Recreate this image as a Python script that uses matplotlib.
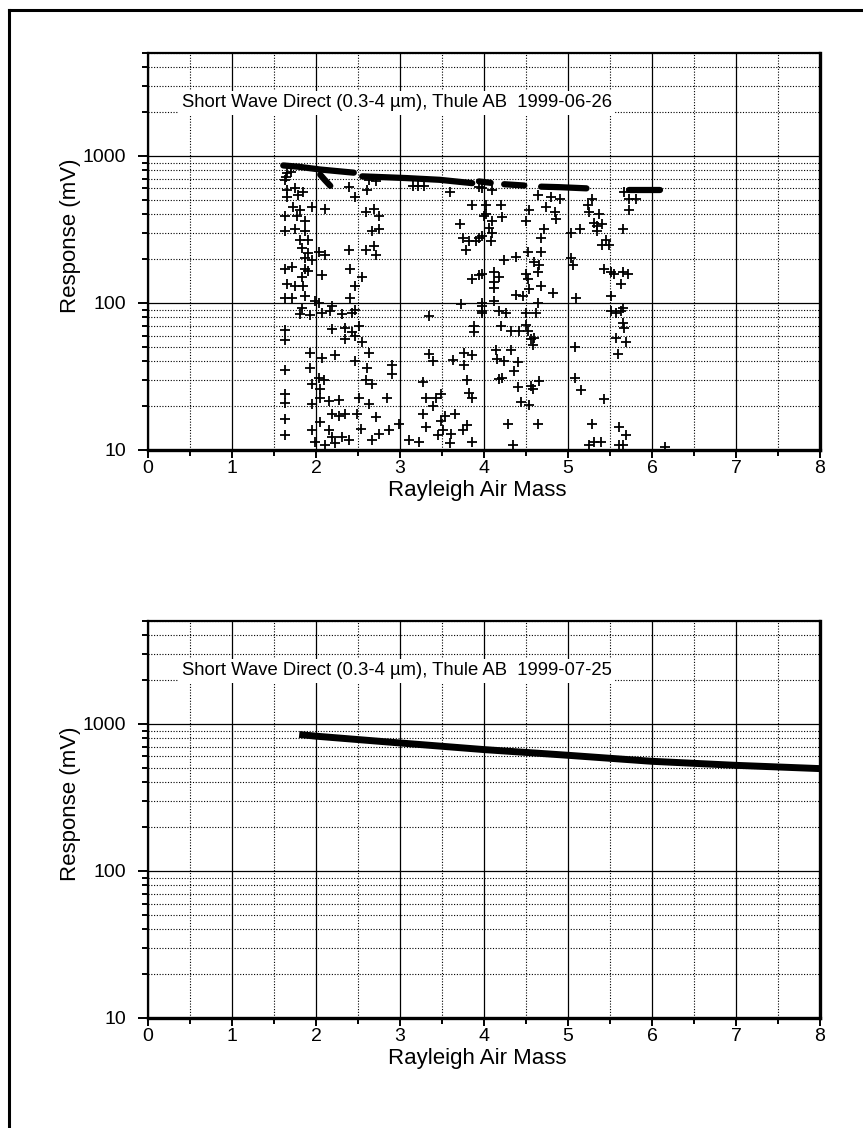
"""Two log-scale response vs. Rayleigh air mass panels (Thule AB, SW direct)."""

import matplotlib
matplotlib.use("Agg")
import matplotlib.pyplot as plt
from matplotlib.lines import Line2D
from matplotlib.ticker import FixedLocator, NullFormatter, LogLocator
import numpy as np

plt.rcParams["font.family"] = ["Liberation Sans", "DejaVu Sans"]

# ---------------- data: 1999-06-26 ----------------
# dense "clear" band, drawn as thick strokes through read points
band_segments = [
    ([1.61, 1.79, 2.05, 2.45], [860, 843, 807, 768]),
    ([2.05, 2.10, 2.17], [745, 690, 625]),
    ([2.55, 3.07, 3.47, 3.86], [725, 706, 687, 652]),
    ([3.94, 4.08], [670, 655]),
    ([4.24, 4.48], [641, 628]),
    ([4.68, 4.90, 5.22], [617, 612, 601]),
    ([5.73, 6.09], [585, 585]),
]

scatter_x = [
    1.63, 1.65, 1.75, 1.65, 1.79, 1.85, 1.73, 1.81, 1.63, 1.77, 1.87, 1.63, 1.75, 1.87,
    1.81, 1.91, 1.83, 1.91, 1.87, 1.95, 2.03, 2.11, 1.63, 1.71, 1.87, 1.91, 1.83, 2.07,
    1.65, 1.75, 1.85, 1.63, 1.71, 1.87, 1.99, 2.03, 1.83, 1.81, 1.93, 2.07, 2.19, 1.63,
    1.63, 1.93, 2.07, 2.23, 1.63, 1.93, 2.03, 2.09, 1.95, 2.05, 1.63, 1.63, 1.95, 2.05,
    2.15, 2.27, 1.63, 1.63, 1.95, 1.99, 2.05, 2.15, 2.19, 2.11, 2.23, 2.31, 2.39, 2.27,
    2.35, 2.19,
    2.17, 2.31, 2.43, 2.47, 2.19, 2.35, 2.43, 2.51, 2.35, 2.47, 2.55, 2.63, 2.47, 2.61,
    2.59, 2.67, 2.51, 2.63, 2.71, 2.49, 2.53, 2.67, 2.75, 2.87, 2.85, 2.99, 2.91, 2.91,
    2.41, 2.55, 2.47, 2.41, 2.39, 2.59, 2.69, 2.71, 2.67, 2.75, 2.59, 2.69, 2.75, 2.47,
    2.61, 2.71, 2.39, 2.11, 1.95, 3.15, 3.22, 3.28, 2.63, 1.66, 1.70, 1.64,
    3.11, 3.23, 3.35, 3.35, 3.39, 3.63, 3.27, 3.31, 3.43, 3.39, 3.49, 3.27, 3.31, 3.49,
    3.53, 3.65, 3.51, 3.61, 3.45, 3.59, 3.75, 3.80, 3.86, 3.76, 3.86, 3.76, 3.80, 3.82,
    3.86, 3.88, 3.88, 3.98, 3.98, 3.73, 3.71, 3.75, 3.82, 3.78, 3.90, 3.94, 3.86, 3.94,
    3.59, 3.86, 3.94, 4.00,
    3.98, 4.10, 4.02, 4.02, 4.10, 4.06, 4.10, 3.98, 4.08, 4.20, 4.22, 4.54, 4.50, 4.64,
    4.80, 4.90, 4.74, 4.84, 4.86, 4.72, 4.68, 5.04, 5.14, 4.38, 4.24, 4.52, 4.68, 4.60,
    4.66, 4.64, 4.50, 4.52, 4.68, 4.54, 4.12, 4.18, 4.12, 4.12, 4.38, 4.46, 4.82, 5.10,
    5.04, 5.06, 3.98, 3.98, 4.12, 4.64, 3.98, 4.18, 4.26, 4.50, 4.62, 4.20, 4.32, 4.42,
    4.50, 4.52, 4.56, 4.60, 4.58, 4.14, 4.32, 4.16, 4.24, 4.40, 4.36, 4.18, 4.22, 4.40,
    4.56, 4.58, 4.66, 4.44, 4.54, 4.28, 4.64, 4.34, 5.08, 5.08, 5.16, 5.43, 5.29, 5.25,
    5.31, 5.39, 5.61, 5.69, 5.61, 5.65, 6.15, 5.45, 5.49, 5.41, 5.43, 5.51, 5.55, 5.65,
    5.71, 5.63, 5.51, 5.51, 5.57, 5.63, 5.65, 5.65, 5.67, 5.57, 5.69, 5.59, 5.29, 5.24,
    5.25, 5.37, 5.31, 5.35, 5.35, 5.41, 5.67, 5.73, 5.81, 5.73, 5.65,
]
scatter_y = [
    687, 585, 601, 526, 540, 570, 448, 425, 392, 392, 361, 308, 316, 308,
    269, 269, 236, 217, 201, 195, 223, 212, 171, 176, 171, 166, 149, 154,
    134, 131, 131, 108, 108, 111, 103, 100, 93, 84, 83, 86, 95, 65,
    56, 46, 42, 44, 35, 36, 31, 30, 28, 26, 24, 21, 20.5, 22.7,
    21.5, 22, 16.3, 12.6, 13.6, 11.4, 15.5, 13.6, 12.3, 10.8, 11.1, 12.3, 11.7, 17,
    17.5, 17.5,
    88, 84, 86, 90, 66, 68, 63, 70, 57, 60, 54, 46, 40, 36,
    30, 28, 22.7, 20.5, 16.7, 17.5, 13.9, 11.7, 12.9, 13.6, 22.7, 15, 38, 33,
    171, 149, 131, 108, 229, 229, 242, 212, 308, 316, 413, 432, 392, 526,
    585, 670, 618, 436, 448, 620, 620, 620, 690, 760, 780, 720,
    11.7, 11.4, 81, 45, 40, 41, 29, 22.7, 22.7, 20, 24, 17.5, 14.3, 15.8,
    17, 17.5, 13.6, 12.9, 12.6, 11.1, 13.6, 14.7, 11.4, 46, 44, 38, 30, 24.5,
    22.7, 70, 63, 86, 95, 98, 343, 277, 262, 229, 262, 277, 146, 154,
    570, 460, 618, 392,
    601, 585, 460, 403, 361, 325, 300, 284, 262, 460, 381, 425, 361, 540,
    526, 512, 448, 413, 371, 316, 277, 300, 316, 206, 195, 223, 223, 190,
    180, 162, 158, 146, 131, 124, 162, 149, 138, 127, 114, 111, 117, 108,
    201, 180, 158, 100, 103, 100, 88, 88, 86, 86, 86, 70, 64, 64,
    71, 64, 57, 58, 52, 48, 48, 41.5, 40.5, 39.4, 34.6, 30.4, 31, 26.7,
    27.4, 26, 29.6, 21.2, 20.1, 15.1, 15.1, 10.8, 50, 31, 25.4, 22.3, 15.1, 10.8,
    11.4, 11.4, 14.4, 12.6, 10.8, 10.8, 10.5, 269, 248, 248, 171, 162, 158, 162,
    158, 134, 111, 88, 86, 88, 92, 73, 68, 58, 54, 45, 512, 460,
    413, 403, 352, 334, 308, 343, 570, 512, 512, 425, 316,
]

# ---------------- data: 1999-07-25 ----------------
clear_x = [1.8, 2.0, 3.0, 4.0, 5.0, 6.0, 7.0, 8.0]
clear_y = [846, 824, 741, 668, 611, 556, 522, 496]

titles = [
    "Short Wave Direct (0.3-4 \u00b5m), Thule AB  1999-06-26",
    "Short Wave Direct (0.3-4 \u00b5m), Thule AB  1999-07-25",
]

W, H = 863, 1128
fig = plt.figure(figsize=(W / 100, H / 100), dpi=100)


def px_axes(left, top, right, bottom):
    return fig.add_axes([left / W, 1 - bottom / H, (right - left) / W, (bottom - top) / H])


def style(ax, title):
    ax.set_yscale("log")
    ax.set_xlim(0, 8)
    ax.set_ylim(10, 5000)
    ax.set_axisbelow(True)
    ax.xaxis.set_major_locator(FixedLocator(range(0, 9)))
    ax.xaxis.set_minor_locator(FixedLocator(np.arange(0.5, 8, 1.0)))
    ax.yaxis.set_major_locator(FixedLocator([10, 100, 1000]))
    ax.yaxis.set_minor_locator(LogLocator(base=10, subs=range(2, 10)))
    ax.yaxis.set_minor_formatter(NullFormatter())
    ax.set_yticklabels(["10", "100", "1000"])
    ax.grid(which="major", color="black", lw=0.9, ls="-")
    ax.grid(which="minor", color="black", lw=0.8, ls=(0, (1, 1.5)))
    ax.tick_params(which="major", direction="out", length=7, width=1.4,
                   labelsize=14, colors="black")
    ax.tick_params(which="minor", direction="out", length=4, width=1.4)
    ax.tick_params(axis="y", which="major", pad=9)
    ax.tick_params(axis="x", which="major", length=6, pad=1)
    for side, lw in (("left", 1.6), ("top", 1.6), ("bottom", 2.4), ("right", 2.4)):
        ax.spines[side].set_linewidth(lw)
    ax.set_xlabel("Rayleigh Air Mass", fontsize=16)
    ax.set_ylabel("Response (mV)", fontsize=16)
    ax.yaxis.set_label_coords(-0.1, 0.54)
    ax.xaxis.set_label_coords(0.49, -0.075)
    ax.text(2.96, 2300, title, fontsize=13.3, ha="center", va="center", zorder=5,
            bbox=dict(facecolor="white", edgecolor="none", pad=2.5))


ax1 = px_axes(148, 53, 820, 450)
style(ax1, titles[0])
for xs, ys in band_segments:
    ax1.plot(xs, ys, color="black", lw=4.5, solid_capstyle="round", zorder=3)
ax1.plot(scatter_x, scatter_y, ls="none", marker="+", ms=7, mew=1.3,
         color="black", zorder=3, clip_on=False)

ax2 = px_axes(148, 621, 820, 1018)
style(ax2, titles[1])
ax2.plot(clear_x, clear_y, color="black", lw=5, solid_capstyle="butt", zorder=3)

# outer page frame (left and top edges only)
fig.add_artist(Line2D([9 / W, 9 / W], [0, 1 - 10 / H], color="black", lw=2.2,
                      transform=fig.transFigure))
fig.add_artist(Line2D([9 / W, 1], [1 - 10 / H, 1 - 10 / H], color="black", lw=2.2,
                      transform=fig.transFigure))

fig.savefig("out.png", dpi=100)
